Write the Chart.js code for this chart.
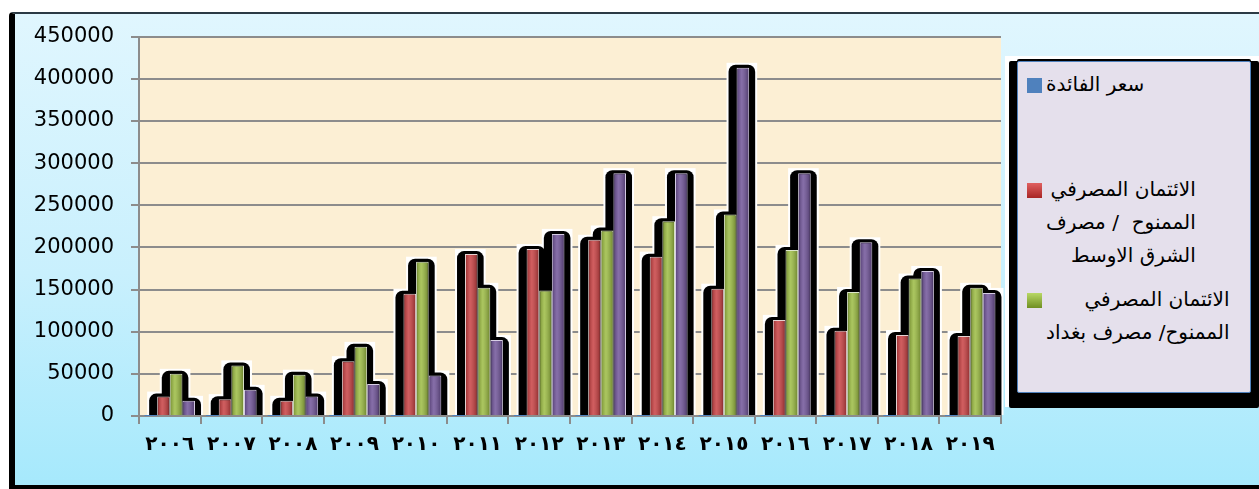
<!DOCTYPE html>
<html>
<head>
<meta charset="utf-8">
<script src="https://cdn.jsdelivr.net/npm/chart.js@4"></script>
<style>
  body { margin: 0; background: #fff; width: 1259px; height: 489px; overflow: hidden; position: relative; font-family: "DejaVu Sans", sans-serif; }
  #frame { position: absolute; left: 9px; top: 12px; width: 1270px; height: 471px;
    border-left: 6px solid #000; border-top: 2px solid #2b3a44; border-bottom: 4px solid #000;
    border-top-left-radius: 4px;
    background: linear-gradient(to bottom, #e0f6fe 0%, #c9f0fd 55%, #a6e9fc 100%); }
  #wrap { position: absolute; left: 16px; top: 7px; width: 990px; height: 479px; }
  #legendBack { position: absolute; left: 1005px; top: 56px; width: 254px; height: 351px; background: #fff; }
  #legend { position: absolute; left: 1008px; top: 58px; width: 232px; height: 330px;
    background: #e5e0ec; border: 1px solid #4f81bd;
    box-shadow: -8px 0 0 #000, 8px 0 0 #000, 0 15px 0 #000, -8px 15px 0 #000, 8px 15px 0 #000, 0 -2px 0 #000;
    margin-left: 9px; margin-top: 3px; border-radius: 2px; }
  .item { position: absolute; left: 9px; display: flex; align-items: flex-start; }
  .mark { width: 15px; height: 15px; margin-top: 10px; flex: none; }
  .txt { direction: rtl; text-align: right; font-size: 20px; line-height: 33px; color: #000; margin-left: 4px; white-space: nowrap; }
</style>
</head>
<body>
<div id="frame"></div>
<div id="wrap"><canvas id="grafico"></canvas></div>
<div id="legendBack"></div>
<div id="legend">
  <div class="item" style="top:6px"><span class="mark" style="background:#4f81bd"></span><div class="txt">سعر الفائدة</div></div>
  <div class="item" style="top:111px"><span class="mark" style="background:linear-gradient(#e06060,#a82525)"></span><div class="txt">الائتمان المصرفي<br>الممنوح &nbsp;/ مصرف<br>الشرق الاوسط</div></div>
  <div class="item" style="top:221px"><span class="mark" style="background:linear-gradient(#b8d865,#6f8f22)"></span><div class="txt">الائتمان المصرفي<br>الممنوح/ مصرف بغداد</div></div>
</div>
<script>
// السنوات
var anos = ["٢٠٠٦", "٢٠٠٧", "٢٠٠٨", "٢٠٠٩", "٢٠١٠", "٢٠١١", "٢٠١٢", "٢٠١٣", "٢٠١٤", "٢٠١٥", "٢٠١٦", "٢٠١٧", "٢٠١٨", "٢٠١٩"]
// سعر الفائدة (quase zero na escala do gráfico)
var sarfFaida = [16, 20, 15, 7, 6, 6, 6, 6, 6, 6, 4, 4, 4, 4]
// مصرف الشرق الاوسط
var sharqAwsat = [23000, 20000, 18000, 65000, 145000, 192000, 198000, 209000, 189000, 151000, 114000, 101000, 96000, 95000]
// مصرف بغداد
var baghdad = [50000, 60000, 49000, 82000, 183000, 152000, 149000, 220000, 231000, 239000, 197000, 147000, 163000, 152000]
// quarta série (roxa)
var roxo = [18000, 31000, 23000, 38000, 48000, 90000, 216000, 288000, 288000, 413000, 288000, 206000, 172000, 146000]
var ticksY = [0, 50000, 100000, 150000, 200000, 250000, 300000, 350000, 400000, 450000]

Chart.defaults.font.family = "DejaVu Sans"
Chart.defaults.color = "#000"

// fundo creme da área do gráfico
var fundo = {
    id: "fundo",
    beforeDraw: function(chart) {
        var a = chart.chartArea, ctx = chart.ctx
        ctx.save()
        ctx.fillStyle = "#fcefd4"
        ctx.fillRect(a.left, a.top, a.right - a.left, a.bottom - a.top)
        ctx.restore()
    }
}

// sombra preta atrás de cada barra
var sombra = {
    id: "sombra",
    beforeDatasetsDraw: function(chart) {
        var ctx = chart.ctx
        ctx.save()
        chart.data.datasets.forEach(function(ds, i) {
            chart.getDatasetMeta(i).data.forEach(function(bar) {
                var p = bar.getProps(["x", "y", "base", "width"], true)
                if (p.base - p.y < 2) return
                var l = p.x - p.width / 2
                ctx.fillStyle = "#fff"
                ctx.fillRect(l - 10, p.y - 5, p.width + 18, p.base - p.y + 5)
            })
        })
        chart.data.datasets.forEach(function(ds, i) {
            chart.getDatasetMeta(i).data.forEach(function(bar) {
                var p = bar.getProps(["x", "y", "base", "width"], true)
                if (p.base - p.y < 2) return
                var l = p.x - p.width / 2
                ctx.fillStyle = "#000"
                ctx.beginPath()
                ctx.roundRect(l - 8, p.y - 3, p.width + 14, p.base - p.y + 3, [7, 7, 0, 0])
                ctx.fill()
            })
        })
        ctx.restore()
    },
    afterDatasetsDraw: function(chart) {
        var ctx = chart.ctx
        ctx.save()
        chart.data.datasets.forEach(function(ds, i) {
            chart.getDatasetMeta(i).data.forEach(function(bar) {
                var p = bar.getProps(["x", "y", "base", "width"], true)
                if (p.base - p.y < 2) return
                var l = p.x - p.width / 2
                var g = ctx.createLinearGradient(l, 0, l + p.width, 0)
                g.addColorStop(0, "rgba(0,0,0,0.25)")
                g.addColorStop(0.4, "rgba(255,255,255,0.18)")
                g.addColorStop(1, "rgba(0,0,0,0.3)")
                ctx.fillStyle = g
                ctx.fillRect(l + 1, p.y + 1, p.width - 2, p.base - p.y - 1)
            })
        })
        ctx.restore()
    }
}

const config = {
    type: "bar",
    data: {
        labels: anos,
        datasets: [
            { label: "سعر الفائدة", data: sarfFaida, backgroundColor: "#4f81bd" },
            { label: "الائتمان المصرفي الممنوح / مصرف الشرق الاوسط", data: sharqAwsat, backgroundColor: "#c63a3c", borderColor: "rgba(255,235,235,0.9)", borderWidth: 1 },
            { label: "الائتمان المصرفي الممنوح/ مصرف بغداد", data: baghdad, backgroundColor: "#98b93c", borderColor: "rgba(245,255,225,0.9)", borderWidth: 1 },
            { label: "", data: roxo, backgroundColor: "#6b4e95", borderColor: "rgba(240,230,255,0.9)", borderWidth: 1 }
        ]
    },
    options: {
        responsive: false,
        animation: false,
        layout: { padding: { top: 15, right: 5, left: 0, bottom: 0 } },
        datasets: { bar: { categoryPercentage: 0.82, barPercentage: 1.0 } },
        plugins: { legend: { display: false }, tooltip: { enabled: false } },
        scales: {
            x: {
                grid: { drawOnChartArea: false, color: "#8c8c8c", lineWidth: 2, tickLength: 8, offset: true },
                border: { color: "#8c8c8c", width: 2 },
                ticks: { font: { size: 20, weight: "bold" }, padding: 9, maxRotation: 0, autoSkip: false, color: "#000" },
                afterFit: function(s) { s.height = 70 }
            },
            y: {
                min: 0,
                max: 450000,
                afterBuildTicks: function(s) { s.ticks = ticksY.map(function(v) { return { value: v } }) },
                grid: { color: "#8c8c8c", lineWidth: 2, tickLength: 8 },
                border: { color: "#8c8c8c", width: 2 },
                ticks: { font: { size: 21 }, padding: 17, color: "#000", callback: function(v) { return String(v) } },
                afterFit: function(s) { s.width = 123 }
            }
        }
    },
    plugins: [fundo, sombra]
}

var cv = document.getElementById("grafico")
cv.width = 990
cv.height = 479
var meuGrafico = new Chart(cv, config)
</script>
</body>
</html>
